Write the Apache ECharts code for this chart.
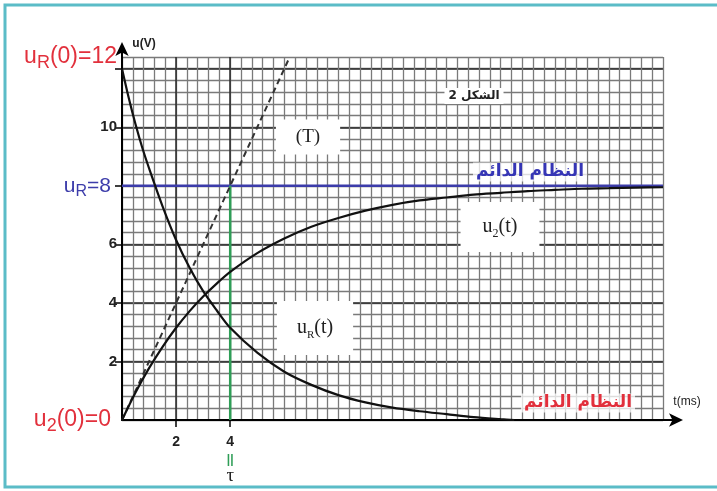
<!DOCTYPE html>
<html><head><meta charset="utf-8">
<script src="https://cdn.jsdelivr.net/npm/echarts@6/dist/echarts.min.js"></script>
<style>html,body{margin:0;padding:0;background:#fff}#c{width:717px;height:491px}</style>
</head><body><div id="c"></div>
<script>
// ---- data ----
const u2Times  = [0, 0.5, 1, 1.5, 2, 2.5, 3, 3.5, 4, 5, 6, 7, 8, 9, 10, 11, 12, 13, 14, 15, 16, 17, 18, 19, 20];
const u2Values = [0, 0.94, 1.77, 2.5, 3.15, 3.72, 4.22, 4.66, 5.06, 5.7, 6.2, 6.6, 6.9, 7.15, 7.35, 7.5, 7.6, 7.7, 7.76, 7.82, 7.86, 7.9, 7.92, 7.94, 7.95];
const uRTimes  = [0, 0.25, 0.5, 0.75, 1, 1.5, 2, 2.5, 3, 3.5, 4, 5, 6, 7, 8, 9, 10, 11, 12, 13, 14, 14.5];
const uRValues = [12, 11, 10.1, 9.3, 8.6, 7.3, 6.15, 5.2, 4.4, 3.75, 3.15, 2.3, 1.65, 1.2, 0.85, 0.6, 0.42, 0.3, 0.2, 0.1, 0.03, 0];
const tangentTimes  = [0, 6.2];
const tangentValues = [0, 12.4];
const steadyValue = 8;
const tau = 4;
const xLabelValues = [2, 4];
const yLabelValues = [0, 2, 4, 6, 8, 10, 12.4];
const yTickValues = [2, 4, 6, 8, 10, 12];
const xMax = 20, yMax = 12.4;

const zip = (a, b) => a.map((v, i) => [v, b[i]]);
const chart = echarts.init(document.getElementById('c'), null, {renderer: 'canvas'});

const yFormatter = v => {
  if (v === 0) return '{red|u}{redSub|2}{redEnd|(0)=0}';
  if (v === 8) return '{blue|u}{blueSub|R}{blueEnd|=8}';
  if (v === 12.4) return '{red|u}{redSub|R}{red|(0)=12}';
  return '{n|' + v + '}';
};
const xFormatter = v => (v === tau ? '{n|' + v + '}\n{g|||}\n{t|τ}' : '{n|' + v + '}');

const redFont = {fontFamily: 'Liberation Sans', fontSize: 23, color: '#e2303c', lineHeight: 30};
const blueFont = {fontFamily: 'Liberation Sans', fontSize: 21, color: '#3c3caa', lineHeight: 28};

const option = {
  animation: false,
  backgroundColor: '#fff',
  grid: {left: 122, right: 54, top: 57, bottom: 71},
  xAxis: [
    {type: 'value', min: 0, max: xMax, interval: 0.4, position: 'bottom',
     axisLine: {show: false}, axisTick: {show: false}, axisLabel: {show: false},
     splitLine: {show: true, lineStyle: {color: '#7a7a7a', width: 1.3}}},
    {type: 'value', min: 0, max: xMax, interval: 2, position: 'bottom',
     axisLine: {show: true, onZero: false, lineStyle: {color: '#000', width: 2},
                symbol: ['none', 'arrow'], symbolSize: [10, 14], symbolOffset: [0, 20]},
     axisTick: {show: true, customValues: xLabelValues, length: 7, lineStyle: {color: '#000', width: 1.5}},
     axisLabel: {show: true, customValues: xLabelValues, margin: 14, formatter: xFormatter,
       rich: {
         n: {fontFamily: 'Liberation Sans', fontWeight: 'bold', fontSize: 14, color: '#222', lineHeight: 17},
         g: {fontFamily: 'Liberation Sans', fontWeight: 'bold', fontSize: 12, color: '#2f9e57', lineHeight: 17},
         t: {fontFamily: 'Liberation Serif', fontSize: 19, color: '#222', lineHeight: 17}
       }},
     splitLine: {show: true, lineStyle: {color: '#2a2a2a', width: 1.5}}}
  ],
  yAxis: [
    {type: 'value', min: 0, max: yMax, interval: 0.4, position: 'left',
     axisLine: {show: false}, axisTick: {show: false}, axisLabel: {show: false},
     splitLine: {show: true, lineStyle: {color: '#7a7a7a', width: 1.3}}},
    {type: 'value', min: 0, max: yMax, interval: 2, position: 'left',
     axisLine: {show: true, onZero: false, lineStyle: {color: '#000', width: 2},
                symbol: ['none', 'arrow'], symbolSize: [10, 14], symbolOffset: [0, 15]},
     axisTick: {show: true, customValues: yTickValues, length: 7, lineStyle: {color: '#000', width: 1.5}},
     axisLabel: {show: true, customValues: yLabelValues, margin: 5, formatter: yFormatter,
       rich: {
         n: {fontFamily: 'Liberation Sans', fontWeight: 'bold', fontSize: 15, color: '#222'},
         red: redFont,
         redEnd: Object.assign({}, redFont, {padding: [0, 6, 0, 0]}),
         redSub: {fontFamily: 'Liberation Sans', fontSize: 18, color: '#e2303c', lineHeight: 16, verticalAlign: 'bottom'},
         blue: blueFont,
         blueEnd: Object.assign({}, blueFont, {padding: [0, 6, 0, 0]}),
         blueSub: {fontFamily: 'Liberation Sans', fontSize: 16, color: '#3c3caa', lineHeight: 14, verticalAlign: 'bottom'}
       }},
     splitLine: {show: true, lineStyle: {color: '#2a2a2a', width: 1.5}}}
  ],
  series: [
    {name: 'steady', type: 'line', xAxisIndex: 1, yAxisIndex: 1, symbol: 'none',
     data: [[0, steadyValue], [xMax, steadyValue]], lineStyle: {color: '#3c3caa', width: 2.5}, z: 3},
    {name: 'tau', type: 'line', xAxisIndex: 1, yAxisIndex: 1, symbol: 'none',
     data: [[tau, 0], [tau, steadyValue]], lineStyle: {color: '#2f9e57', width: 2.5}, z: 3},
    {name: 'tangent', type: 'line', xAxisIndex: 1, yAxisIndex: 1, symbol: 'none',
     data: zip(tangentTimes, tangentValues), lineStyle: {color: '#333', width: 2, type: [6, 4]}, z: 4},
    {name: 'u2', type: 'line', xAxisIndex: 1, yAxisIndex: 1, symbol: 'none', smooth: 0.3,
     data: zip(u2Times, u2Values), lineStyle: {color: '#111', width: 2.2}, z: 5},
    {name: 'uR', type: 'line', xAxisIndex: 1, yAxisIndex: 1, symbol: 'none', smooth: 0.3,
     data: zip(uRTimes, uRValues), lineStyle: {color: '#111', width: 2.2}, z: 5}
  ]
};
chart.setOption(option);

// decorations: frame, axis arrow extension, annotation boxes
const pEnd = chart.convertToPixel({xAxisIndex: 1, yAxisIndex: 1}, [xMax, 0]);
const pTop = chart.convertToPixel({xAxisIndex: 1, yAxisIndex: 1}, [0, yMax]);
const boxText = (x, y, txt, extra) => ({
  type: 'text', x: x, y: y, z: 50,
  style: Object.assign({text: txt, align: 'center', verticalAlign: 'middle',
    fontFamily: 'Liberation Serif', fontSize: 20, fill: '#222',
    backgroundColor: '#fff'}, extra || {})
});
chart.setOption({
  graphic: [
    {type: 'rect', shape: {x: 5, y: 5, width: 740, height: 482}, z: 60,
     style: {fill: 'none', stroke: '#5bbcc7', lineWidth: 3}},
    {type: 'line', z: 40, shape: {x1: pEnd[0], y1: pEnd[1], x2: pEnd[0] + 14, y2: pEnd[1]},
     style: {stroke: '#000', lineWidth: 2}},
    {type: 'line', z: 40, shape: {x1: pTop[0], y1: pTop[1], x2: pTop[0], y2: pTop[1] - 10},
     style: {stroke: '#000', lineWidth: 2}},
    boxText(pTop[0] + 22, pTop[1] - 13, 'u(V)', {fontFamily: 'Liberation Sans', fontWeight: 'bold', fontSize: 12, backgroundColor: 'transparent'}),
    boxText(pEnd[0] + 24, pEnd[1] - 18, 't(ms)', {fontFamily: 'Liberation Sans', fontSize: 12, backgroundColor: 'transparent'}),
    boxText(308, 137, '(T)', {padding: [8, 20, 8, 20], fontSize: 19}),
    boxText(500, 227, '{m|u}{s|2}{m|(t)}', {padding: [12, 22, 12, 22], rich: {
      m: {fontFamily: 'Liberation Serif', fontSize: 20, fill: '#222', lineHeight: 26},
      s: {fontFamily: 'Liberation Serif', fontSize: 12, fill: '#222', lineHeight: 12, verticalAlign: 'bottom'}}}),
    boxText(315, 328, '{m|u}{s|R}{m|(t)}', {padding: [14, 20, 14, 20], rich: {
      m: {fontFamily: 'Liberation Serif', fontSize: 20, fill: '#222', lineHeight: 26},
      s: {fontFamily: 'Liberation Serif', fontSize: 11, fill: '#222', lineHeight: 12, verticalAlign: 'bottom'}}}),
    boxText(474, 96, 'الشكل 2', {fontFamily: 'DejaVu Sans', fontWeight: 'bold', fontSize: 12, padding: [2, 4, 2, 4]}),
    boxText(530, 172, 'النظام الدائم', {fontFamily: 'DejaVu Sans', fontWeight: 'bold', fontSize: 17, fill: '#3535b5', backgroundColor: 'rgba(255,255,255,0.75)', padding: [1, 3, 1, 3]}),
    boxText(578, 403, 'النظام الدائم', {fontFamily: 'DejaVu Sans', fontWeight: 'bold', fontSize: 17, fill: '#e2303c', backgroundColor: 'rgba(255,255,255,0.75)', padding: [1, 3, 1, 3]})
  ]
});
</script></body></html>
